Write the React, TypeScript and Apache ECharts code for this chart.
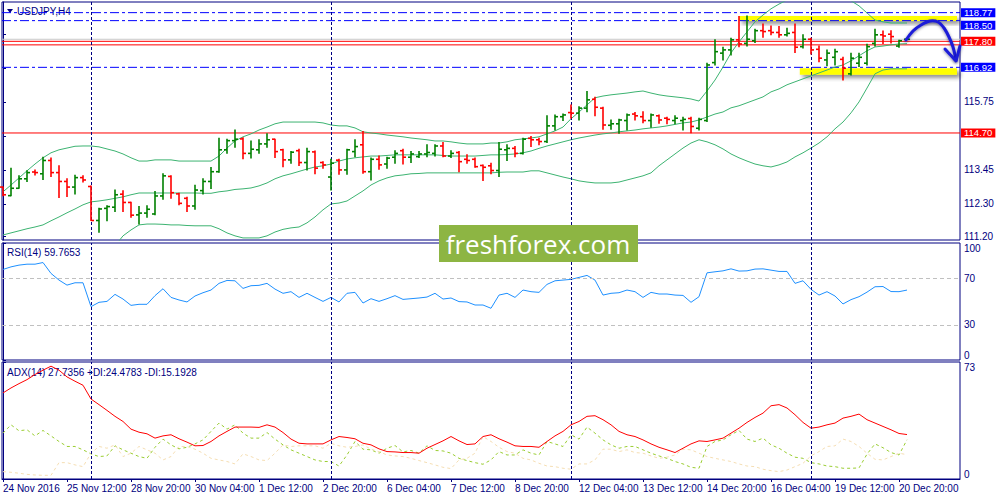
import React, { useEffect, useRef } from 'react';
import * as echarts from 'echarts';

// bottom axis labels, one every 8 H4 bars
const tickLabels = [
  '24 Nov 2016', '25 Nov 12:00', '28 Nov 20:00', '30 Nov 04:00', '1 Dec 12:00',
  '2 Dec 20:00', '6 Dec 04:00', '7 Dec 12:00', '8 Dec 20:00', '12 Dec 04:00',
  '13 Dec 12:00', '14 Dec 20:00', '16 Dec 04:00', '19 Dec 12:00', '20 Dec 20:00',
];
const TICK_STEP = 8;
// first bar of each trading week (Monday 00:00) -> period separators
const weekStarts = [11, 41, 71, 101];

// USDJPY H4 bars
const open = [
  112.87, 112.58, 112.83, 113.15, 113.38, 113.32, 113.77, 113.36, 113.06, 112.87,
  113.19, 112.89, 111.74, 112.15, 112.19, 112.63, 112.35, 111.93, 111.99, 111.96,
  112.57, 113.23, 112.64, 112.49, 112.23, 112.75, 113.06, 113.39, 114.13, 114.44,
  114.50, 114.01, 114.13, 114.33, 114.49, 114.13, 113.79, 114.10, 113.70, 114.06,
  113.70, 113.21, 113.78, 113.45, 114.07, 114.30, 113.39, 113.81, 113.65, 113.88,
  114.10, 113.88, 113.90, 113.99, 114.01, 114.26, 113.92, 114.04, 113.81, 113.81,
  113.60, 113.59, 113.43, 114.13, 114.18, 114.01, 114.52, 114.47, 114.41, 114.94,
  115.25, 115.39, 115.37, 115.54, 115.84, 115.54, 114.96, 115.01, 115.12, 115.34,
  115.25, 115.12, 115.28, 115.20, 115.12, 115.12, 115.19, 114.86, 115.12, 117.08,
  117.40, 117.51, 117.85, 117.73, 117.82, 118.16, 118.16, 118.10, 118.02, 118.10,
  117.62, 117.87, 117.53, 117.17, 117.26, 117.19, 116.70, 117.06, 117.06, 117.73,
  118.02, 118.04, 117.64, 117.87,
];
const high = [
  112.87, 113.51, 113.25, 113.42, 113.45, 113.88, 113.85, 113.59, 113.15, 113.27,
  113.25, 112.91, 112.15, 112.24, 112.77, 112.75, 112.36, 112.21, 112.24, 112.72,
  113.32, 113.25, 112.66, 112.53, 112.93, 113.15, 113.53, 114.52, 114.49, 114.80,
  114.54, 114.43, 114.47, 114.67, 114.49, 114.15, 114.07, 114.15, 114.18, 114.09,
  113.73, 113.81, 113.81, 114.15, 114.47, 114.75, 113.85, 113.92, 113.88, 114.10,
  114.15, 114.07, 114.07, 114.30, 114.30, 114.38, 114.10, 114.07, 113.96, 113.85,
  113.62, 113.68, 114.38, 114.30, 114.24, 114.52, 114.58, 114.52, 115.28, 115.31,
  115.34, 115.65, 115.59, 116.10, 115.91, 115.57, 115.14, 115.16, 115.34, 115.39,
  115.42, 115.34, 115.31, 115.23, 115.28, 115.23, 115.23, 115.20, 117.06, 117.85,
  117.60, 117.90, 118.64, 118.66, 118.21, 118.39, 118.32, 118.30, 118.24, 118.39,
  118.02, 117.90, 117.64, 117.51, 117.53, 117.26, 117.40, 117.40, 117.70, 118.21,
  118.15, 118.16, 117.84, 117.88,
];
const low = [
  112.58, 112.58, 112.83, 113.06, 113.28, 113.13, 113.23, 112.52, 112.55, 112.64,
  113.04, 111.74, 111.34, 111.73, 112.04, 112.04, 111.85, 111.62, 111.85, 111.93,
  112.46, 112.49, 112.27, 112.04, 112.12, 112.64, 112.82, 113.37, 114.01, 114.22,
  113.83, 113.85, 114.01, 114.22, 113.87, 113.56, 113.68, 113.60, 113.45, 113.32,
  113.51, 112.77, 113.30, 113.30, 113.90, 113.34, 113.11, 113.47, 113.51, 113.68,
  113.65, 113.70, 113.87, 113.90, 113.92, 113.90, 113.87, 113.39, 113.68, 113.54,
  113.09, 113.32, 113.23, 113.77, 113.90, 113.99, 114.24, 114.30, 114.38, 114.80,
  115.12, 115.20, 115.14, 115.42, 115.28, 114.83, 114.83, 114.69, 114.80, 115.14,
  115.05, 114.89, 115.03, 115.01, 115.01, 114.80, 114.71, 114.80, 115.09, 117.00,
  117.17, 117.34, 117.62, 117.64, 117.76, 117.94, 118.02, 117.94, 117.98, 117.42,
  117.57, 117.37, 117.11, 116.97, 117.00, 116.49, 116.66, 116.95, 117.00, 117.64,
  117.73, 117.74, 117.60, 117.86,
];
const close = [
  112.61, 112.83, 113.15, 113.36, 113.36, 113.77, 113.36, 113.06, 112.87, 113.19,
  113.11, 111.74, 112.13, 112.21, 112.61, 112.35, 111.92, 111.99, 112.12, 112.57,
  113.25, 112.68, 112.32, 112.23, 112.77, 113.06, 113.39, 114.13, 114.44, 114.49,
  114.01, 114.15, 114.33, 114.47, 114.07, 113.79, 114.05, 113.70, 114.07, 113.51,
  113.62, 113.68, 113.45, 114.13, 114.24, 113.39, 113.81, 113.62, 113.85, 114.01,
  113.88, 113.99, 113.99, 114.04, 114.26, 113.92, 114.01, 113.73, 113.77, 113.56,
  113.54, 113.43, 114.15, 114.18, 114.01, 114.49, 114.47, 114.41, 114.94, 115.25,
  115.31, 115.37, 115.54, 115.82, 115.57, 114.97, 115.01, 115.14, 115.31, 115.28,
  115.12, 115.31, 115.14, 115.16, 115.20, 115.16, 114.92, 115.16, 117.00, 117.45,
  117.51, 117.85, 117.71, 117.87, 118.16, 118.13, 118.10, 118.02, 118.07, 117.60,
  117.87, 117.51, 117.23, 117.40, 117.45, 116.89, 117.23, 117.26, 117.62, 118.02,
  117.98, 117.96, 117.82, 117.87,
];

// Bollinger bands (20, 2)
const upperBand = [
  112.71, 112.94, 113.18, 113.42, 113.65, 113.86, 114.03, 114.13, 114.19, 114.25,
  114.26, 114.26, 114.23, 114.16, 114.09, 113.99, 113.86, 113.75, 113.75, 113.79,
  113.79, 113.79, 113.75, 113.75, 113.75, 113.75, 113.75, 113.92, 114.19, 114.43,
  114.57, 114.67, 114.80, 114.90, 115.01, 115.07, 115.07, 115.07, 115.07, 115.07,
  115.04, 114.97, 114.94, 114.94, 114.87, 114.74, 114.70, 114.67, 114.63, 114.60,
  114.57, 114.53, 114.50, 114.47, 114.43, 114.43, 114.40, 114.36, 114.33, 114.33,
  114.33, 114.36, 114.36, 114.40, 114.47, 114.50, 114.53, 114.57, 114.67, 114.77,
  114.90, 115.18, 115.41, 115.65, 115.89, 115.95, 115.99, 116.02, 116.05, 116.09,
  116.12, 116.05, 115.99, 115.95, 115.92, 115.89, 115.85, 115.78, 116.12, 116.49,
  116.93, 117.41, 117.78, 118.12, 118.46, 118.69, 118.90, 119.06, 119.20, 119.34,
  119.44, 119.50, 119.54, 119.50, 119.44, 119.30, 119.17, 119.00, 118.76, 118.52,
  118.46, 118.42, 118.42, 118.42,
];
const middleBand = [
  111.25, 111.32, 111.39, 111.46, 111.52, 111.59, 111.73, 111.86, 112.00, 112.13,
  112.27, 112.37, 112.40, 112.44, 112.49, 112.54, 112.61, 112.67, 112.67, 112.67,
  112.67, 112.67, 112.67, 112.67, 112.67, 112.66, 112.66, 112.71, 112.74, 112.79,
  112.81, 112.84, 112.91, 113.01, 113.15, 113.25, 113.32, 113.40, 113.48, 113.55,
  113.59, 113.65, 113.75, 113.82, 113.86, 113.89, 113.92, 113.92, 113.94, 113.96,
  113.96, 113.96, 113.96, 113.96, 113.96, 113.94, 113.92, 113.92, 113.92, 113.92,
  113.94, 113.96, 113.96, 113.97, 113.99, 114.03, 114.09, 114.18, 114.26, 114.33,
  114.40, 114.47, 114.53, 114.58, 114.63, 114.67, 114.70, 114.74, 114.77, 114.80,
  114.84, 114.87, 114.90, 114.94, 114.99, 115.04, 115.07, 115.14, 115.24, 115.34,
  115.41, 115.55, 115.62, 115.72, 115.82, 115.92, 116.09, 116.19, 116.33, 116.43,
  116.53, 116.63, 116.73, 116.83, 116.93, 117.00, 117.14, 117.31, 117.48, 117.61,
  117.64, 117.68, 117.71, 117.72,
];
const lowerBand = [
  109.80, 109.70, 109.60, 109.49, 109.39, 109.32, 109.43, 109.60, 109.80, 110.02,
  110.27, 110.47, 110.58, 110.71, 110.88, 111.22, 111.42, 111.59, 111.62, 111.62,
  111.61, 111.59, 111.59, 111.57, 111.56, 111.56, 111.56, 111.46, 111.32, 111.22,
  111.15, 111.15, 111.15, 111.22, 111.35, 111.44, 111.49, 111.52, 111.66, 111.86,
  112.10, 112.30, 112.33, 112.40, 112.57, 112.74, 112.94, 113.08, 113.18, 113.25,
  113.28, 113.32, 113.33, 113.35, 113.35, 113.35, 113.35, 113.35, 113.35, 113.35,
  113.35, 113.35, 113.37, 113.38, 113.38, 113.38, 113.42, 113.42, 113.35, 113.28,
  113.21, 113.15, 113.08, 113.04, 113.01, 113.01, 113.01, 113.04, 113.11, 113.18,
  113.25, 113.35, 113.59, 113.79, 113.99, 114.19, 114.36, 114.47, 114.40, 114.30,
  114.16, 113.99, 113.86, 113.75, 113.65, 113.59, 113.55, 113.62, 113.72, 113.89,
  114.03, 114.19, 114.36, 114.57, 114.84, 115.07, 115.38, 115.75, 116.22, 116.70,
  116.83, 116.87, 116.87, 116.87,
];

// RSI(14)
const rsi = [
  77.4, 79.6, 81.1, 81.9, 81.9, 83.3, 74.0, 68.3, 64.0, 66.0,
  66.0, 45.6, 49.3, 50.1, 56.1, 52.1, 46.7, 47.6, 47.6, 55.0,
  60.9, 53.5, 51.3, 49.6, 54.7, 57.5, 59.8, 65.5, 68.0, 67.7,
  61.2, 63.5, 63.8, 65.5, 60.6, 57.0, 58.4, 53.5, 57.0, 53.5,
  50.1, 53.5, 49.6, 57.0, 57.8, 48.7, 52.4, 50.1, 52.4, 55.0,
  51.8, 52.4, 53.0, 53.8, 57.0, 52.1, 53.0, 49.9, 49.6, 47.0,
  47.0, 44.2, 55.5, 57.0, 53.5, 59.8, 58.4, 57.8, 64.6, 67.7,
  68.3, 68.9, 70.6, 72.3, 68.3, 55.5, 57.0, 57.5, 59.8, 58.4,
  53.5, 57.8, 56.4, 56.4, 55.5, 55.2, 49.3, 54.1, 74.5, 75.4,
  76.2, 77.9, 76.0, 76.2, 77.7, 77.9, 76.8, 75.7, 75.7, 65.5,
  67.7, 60.4, 55.5, 58.4, 54.7, 47.9, 51.6, 54.1, 58.0, 62.6,
  62.8, 58.5, 58.4, 59.7653,
];

// ADX(14) with +DI / -DI
const adx = [
  53.7, 56.8, 59.5, 62.0, 65.2, 67.9, 70.4, 67.9, 63.7, 61.0,
  58.5, 49.9, 46.4, 42.8, 39.1, 35.9, 31.1, 29.2, 28.2, 25.5,
  26.9, 27.6, 25.1, 23.0, 20.7, 20.9, 23.4, 26.9, 29.7, 32.4,
  32.4, 32.4, 32.2, 33.8, 32.4, 29.0, 24.9, 22.3, 21.9, 21.9,
  21.9, 24.4, 26.5, 25.9, 25.1, 22.3, 21.3, 18.8, 17.1, 16.9,
  16.5, 16.5, 16.1, 19.2, 21.5, 23.8, 26.5, 23.8, 21.5, 21.9,
  26.5, 27.6, 25.1, 23.0, 20.7, 20.3, 20.3, 19.8, 23.4, 26.9,
  29.7, 33.8, 35.9, 39.1, 39.5, 37.0, 33.8, 29.7, 27.6, 26.5,
  24.4, 21.9, 19.8, 18.2, 16.5, 19.2, 21.9, 23.8, 23.4, 24.4,
  25.5, 28.6, 31.7, 35.3, 38.4, 41.1, 45.7, 46.4, 44.3, 40.1,
  35.3, 31.7, 32.4, 33.8, 34.9, 38.0, 39.1, 40.5, 37.0, 34.9,
  32.8, 30.7, 28.4, 27.7356,
];
const plusDi = [
  28.6, 33.8, 30.1, 30.7, 26.9, 30.3, 26.9, 23.4, 20.3, 20.3,
  18.2, 15.7, 14.0, 14.4, 20.7, 18.2, 16.1, 14.0, 12.9, 19.8,
  24.9, 21.3, 18.8, 19.8, 21.9, 24.4, 29.7, 34.9, 31.1, 33.8,
  28.6, 25.5, 25.5, 29.0, 24.9, 21.3, 18.2, 16.1, 14.0, 11.9,
  10.9, 10.9, 8.1, 15.0, 23.4, 18.6, 18.2, 16.1, 19.2, 20.9,
  16.9, 17.8, 16.1, 20.7, 17.8, 17.5, 16.1, 12.9, 11.5, 10.2,
  9.2, 11.9, 17.1, 15.0, 15.0, 18.2, 16.1, 15.0, 23.4, 21.9,
  20.3, 27.6, 24.9, 32.4, 28.6, 24.4, 21.3, 19.2, 20.3, 20.3,
  18.2, 16.1, 14.4, 12.9, 10.9, 9.4, 7.3, 6.7, 20.3, 23.4,
  24.4, 27.6, 30.3, 24.9, 23.4, 25.5, 21.3, 19.2, 16.1, 13.6,
  12.9, 10.2, 9.4, 8.1, 7.7, 6.7, 6.7, 6.9, 15.5, 21.9,
  19.5, 16.5, 15.0, 24.4783,
];
const minusDi = [
  4.6, 4.2, 3.6, 2.9, 2.5, 2.3, 2.3, 10.2, 10.2, 8.8,
  7.7, 16.1, 20.3, 19.2, 21.3, 14.0, 16.1, 20.3, 18.2, 16.1,
  11.9, 14.0, 20.3, 20.3, 18.6, 16.1, 12.9, 11.9, 10.9, 9.4,
  15.7, 14.0, 11.9, 11.5, 16.1, 21.3, 20.3, 20.7, 20.7, 20.7,
  19.2, 22.3, 20.7, 19.8, 20.3, 21.3, 18.6, 17.1, 15.0, 14.4,
  14.0, 12.9, 11.5, 10.2, 8.8, 7.3, 6.5, 11.9, 12.9, 16.1,
  26.5, 23.4, 19.8, 17.1, 16.1, 12.9, 11.9, 9.8, 8.1, 7.7,
  6.7, 6.1, 9.4, 9.4, 11.9, 18.6, 18.6, 17.1, 18.2, 16.5,
  16.1, 14.4, 12.9, 13.6, 15.0, 18.6, 18.2, 16.1, 14.0, 12.9,
  11.9, 10.9, 9.4, 8.1, 7.7, 6.1, 5.2, 4.6, 5.6, 7.7,
  9.8, 14.4, 17.1, 20.3, 20.7, 24.9, 23.4, 20.3, 16.1, 12.3,
  11.9, 14.0, 16.1, 15.1928,
];

const priceTicks = [111.2, 112.3, 113.45, 114.6, 115.75, 116.9, 118.05];
const priceLabels = [111.2, 112.3, 113.45, 115.75];
// horizontal price levels drawn on the chart: [price, colour kind, tag shown]
const levels: [number, 'blue' | 'red' | 'bid', boolean][] = [
  [117.87, 'bid', false],
  [118.77, 'blue', true],
  [118.5, 'blue', true],
  [116.92, 'blue', true],
  [117.68, 'red', false],
  [117.8, 'red', true],
  [114.7, 'red', true],
];

const NAVY = '#000080';
const BLUE = '#0000ff';
const RED = '#ff0000';
const FONT = 'Liberation Sans, Arial, sans-serif';
const X_MIN = -0.125;
const X_MAX = 119.625;

const App = () => {
  const chartRef = useRef<HTMLDivElement>(null);

  useEffect(() => {
    const chart = echarts.init(chartRef.current, null, { renderer: 'svg' });

    const pairs = (arr: number[]) => arr.map((v, i) => [i, v]);
    const tickPos = tickLabels.map((_, k) => k * TICK_STEP);
    const sepLine = {
      silent: true,
      symbol: ['none', 'none'],
      lineStyle: { color: NAVY, type: [3, 2], width: 1 },
      label: { show: false },
      data: weekStarts.map((x) => ({ xAxis: x })),
    };

    // each level is its own two-point line across the pane, with a price tag at its right end
    const levelSeries = levels.map(([v, kind, tag]) => {
      const color = kind === 'blue' ? BLUE : kind === 'red' ? RED : '#c8c8c8';
      return {
        name: 'level ' + v.toFixed(2),
        type: 'line',
        xAxisIndex: 0,
        yAxisIndex: 0,
        data: [[X_MIN, v], [X_MAX, v]],
        symbol: 'none',
        silent: true,
        z: 1,
        lineStyle: { color, width: 1, type: kind === 'blue' ? [9, 3, 3, 3] : 'solid' },
        endLabel: {
          show: tag,
          formatter: () => v.toFixed(2),
          distance: 1,
          // 118.50 sits only 8px under 118.77: hang its tag below the line
          verticalAlign: v === 118.5 ? 'top' : 'middle',
          color: '#fff',
          backgroundColor: color,
          padding: [0, 3, 0, 3],
          fontSize: 9.5,
          lineHeight: 9,
          fontFamily: FONT,
        },
      };
    });

    const xBase = { type: 'value', min: X_MIN, max: X_MAX, splitLine: { show: false } };
    const yBase = {
      type: 'value',
      position: 'right',
      splitLine: { show: false },
      axisLine: { show: true, lineStyle: { color: NAVY } },
    };
    const labelStyle = { color: NAVY, fontSize: 10, fontFamily: FONT, margin: 4 };
    const band = { showSymbol: false, lineStyle: { color: '#3cb371', width: 1 }, z: 2 };

    const option = {
      animation: false,
      backgroundColor: '#fff',
      grid: [
        { left: 2, top: 2, width: 958, height: 238, show: true, borderColor: NAVY, borderWidth: 1 },
        { left: 2, top: 243, width: 958, height: 117, show: true, borderColor: NAVY, borderWidth: 1 },
        { left: 2, top: 362, width: 958, height: 117, show: true, borderColor: NAVY, borderWidth: 1 },
      ],
      xAxis: [
        { ...xBase, gridIndex: 0, show: false },
        { ...xBase, gridIndex: 1, show: false },
        {
          ...xBase,
          gridIndex: 2,
          axisLine: { show: true, lineStyle: { color: NAVY } },
          axisTick: { show: true, length: 3, customValues: tickPos, lineStyle: { color: NAVY } },
          axisLabel: {
            ...labelStyle,
            customValues: tickPos,
            align: 'left',
            formatter: (v: number) => tickLabels[Math.round(v / TICK_STEP)] ?? '',
          },
        },
      ],
      yAxis: [
        {
          ...yBase,
          gridIndex: 0,
          min: 111.08,
          max: 119.13,
          axisTick: { show: true, length: 3, customValues: priceTicks, lineStyle: { color: NAVY } },
          axisLabel: { ...labelStyle, customValues: priceLabels, formatter: (v: number) => v.toFixed(2) },
        },
        {
          ...yBase,
          gridIndex: 1,
          min: 0,
          max: 100,
          axisTick: { show: true, length: 3, customValues: [0, 30, 70, 100], lineStyle: { color: NAVY } },
          axisLabel: {
            ...labelStyle,
            customValues: [0, 30, 70, 100],
            verticalAlignMinLabel: 'bottom',
            verticalAlignMaxLabel: 'top',
          },
        },
        {
          ...yBase,
          gridIndex: 2,
          min: 0,
          max: 73,
          axisTick: { show: true, length: 3, customValues: [0, 73], lineStyle: { color: NAVY } },
          axisLabel: {
            ...labelStyle,
            customValues: [0, 73],
            verticalAlignMinLabel: 'bottom',
            verticalAlignMaxLabel: 'top',
          },
        },
      ],
      series: [
        ...levelSeries,
        {
          name: 'Upper band',
          type: 'line',
          xAxisIndex: 0,
          yAxisIndex: 0,
          data: pairs(upperBand),
          ...band,
          markArea: {
            silent: true,
            itemStyle: {
              color: '#ffff00',
              shadowBlur: 4,
              shadowColor: 'rgba(0,0,0,0.45)',
              shadowOffsetX: 3,
              shadowOffsetY: 3,
            },
            data: [
              [{ xAxis: 92, yAxis: 118.66 }, { xAxis: 119.25, yAxis: 118.49 }],
              [{ xAxis: 99.6, yAxis: 116.89 }, { xAxis: 119.25, yAxis: 116.67 }],
            ],
          },
          markLine: sepLine,
        },
        {
          name: 'Middle band',
          type: 'line',
          xAxisIndex: 0,
          yAxisIndex: 0,
          data: pairs(middleBand),
          ...band,
        },
        {
          name: 'Lower band',
          type: 'line',
          xAxisIndex: 0,
          yAxisIndex: 0,
          data: pairs(lowerBand),
          ...band,
        },
        {
          name: 'USDJPY,H4',
          type: 'custom',
          xAxisIndex: 0,
          yAxisIndex: 0,
          z: 5,
          data: open.map((o, i) => [i, o, high[i], low[i], close[i]]),
          encode: { x: 0, y: [1, 2, 3, 4] },
          renderItem: (params: any, api: any) => {
            const i = api.value(0);
            const o = api.value(1);
            const c = api.value(4);
            const pH = api.coord([i, api.value(2)]);
            const pL = api.coord([i, api.value(3)]);
            const pO = api.coord([i, o]);
            const pC = api.coord([i, c]);
            const style = { stroke: c >= o ? '#008000' : RED, lineWidth: 1.6 };
            return {
              type: 'group',
              children: [
                { type: 'line', shape: { x1: pH[0], y1: pH[1] - 0.5, x2: pL[0], y2: pL[1] + 0.5 }, style },
                { type: 'line', shape: { x1: pO[0] - 3, y1: pO[1], x2: pO[0], y2: pO[1] }, style },
                { type: 'line', shape: { x1: pC[0], y1: pC[1], x2: pC[0] + 3, y2: pC[1] }, style },
              ],
            };
          },
        },
        {
          name: 'RSI(14)',
          type: 'line',
          xAxisIndex: 1,
          yAxisIndex: 1,
          data: pairs(rsi),
          showSymbol: false,
          lineStyle: { color: '#1e90ff', width: 1 },
          markLine: sepLine,
        },
        {
          name: 'RSI levels',
          type: 'line',
          xAxisIndex: 1,
          yAxisIndex: 1,
          data: [],
          markLine: {
            silent: true,
            symbol: ['none', 'none'],
            lineStyle: { color: '#c0c0c0', type: [4, 3], width: 1 },
            label: { show: false },
            data: [{ yAxis: 70 }, { yAxis: 30 }],
          },
        },
        {
          name: 'ADX(14)',
          type: 'line',
          xAxisIndex: 2,
          yAxisIndex: 2,
          data: pairs(adx),
          showSymbol: false,
          lineStyle: { color: RED, width: 1 },
          z: 4,
          markLine: sepLine,
        },
        {
          name: '+DI',
          type: 'line',
          xAxisIndex: 2,
          yAxisIndex: 2,
          data: pairs(plusDi),
          showSymbol: false,
          lineStyle: { color: '#9acd32', width: 1, type: [3, 3] },
          z: 3,
        },
        {
          name: '-DI',
          type: 'line',
          xAxisIndex: 2,
          yAxisIndex: 2,
          data: pairs(minusDi),
          showSymbol: false,
          lineStyle: { color: '#f5deb3', width: 1, type: [3, 3] },
          z: 3,
        },
      ],
      graphic: [
        { type: 'polygon', shape: { points: [[7, 9], [13, 9], [10, 13]] }, style: { fill: NAVY } },
        {
          type: 'text',
          x: 17,
          y: 11,
          style: { text: 'USDJPY,H4', fill: NAVY, fontSize: 10, fontFamily: FONT, verticalAlign: 'middle' },
        },
        {
          type: 'text',
          x: 7,
          y: 252,
          style: { text: 'RSI(14) 59.7653', fill: NAVY, fontSize: 10, fontFamily: FONT, verticalAlign: 'middle' },
        },
        {
          type: 'text',
          x: 7,
          y: 372,
          style: {
            text: 'ADX(14) 27.7356 +DI:24.4783 -DI:15.1928',
            fill: NAVY,
            fontSize: 10,
            fontFamily: FONT,
            verticalAlign: 'middle',
          },
        },
        {
          type: 'rect',
          z: 100,
          shape: { x: 439, y: 225, width: 199, height: 37 },
          style: { fill: '#8db543' },
        },
        {
          type: 'text',
          z: 101,
          x: 538,
          y: 244,
          style: {
            text: 'freshforex.com',
            fill: '#fff',
            fontSize: 26,
            fontFamily: 'Open Sans, sans-serif',
            align: 'center',
            verticalAlign: 'middle',
          },
        },
        {
          type: 'polyline',
          z: 100,
          shape: {
            points: [[906, 40], [913, 31], [921, 25], [930, 21], [938, 22], [944, 28], [949, 37], [953, 47], [956, 60]],
            smooth: 0.3,
          },
          style: {
            stroke: '#1c1cd8',
            lineWidth: 3,
            fill: null,
            lineCap: 'round',
            lineJoin: 'round',
            shadowBlur: 3,
            shadowColor: 'rgba(0,0,60,0.5)',
            shadowOffsetY: 1,
          },
        },
        {
          type: 'polyline',
          z: 100,
          shape: { points: [[945, 49], [956, 61], [960, 46]] },
          style: {
            stroke: '#1c1cd8',
            lineWidth: 3,
            fill: null,
            lineCap: 'round',
            lineJoin: 'round',
            shadowBlur: 3,
            shadowColor: 'rgba(0,0,60,0.5)',
            shadowOffsetY: 1,
          },
        },
      ],
    };

    chart.setOption(option);

    return () => {
      chart.dispose();
    };
  }, []);

  return (
    <div
      ref={chartRef}
      style={{ position: 'fixed', left: 0, top: 0, width: '1000px', height: '500px', background: '#fff' }}
    />
  );
};

export default App;
